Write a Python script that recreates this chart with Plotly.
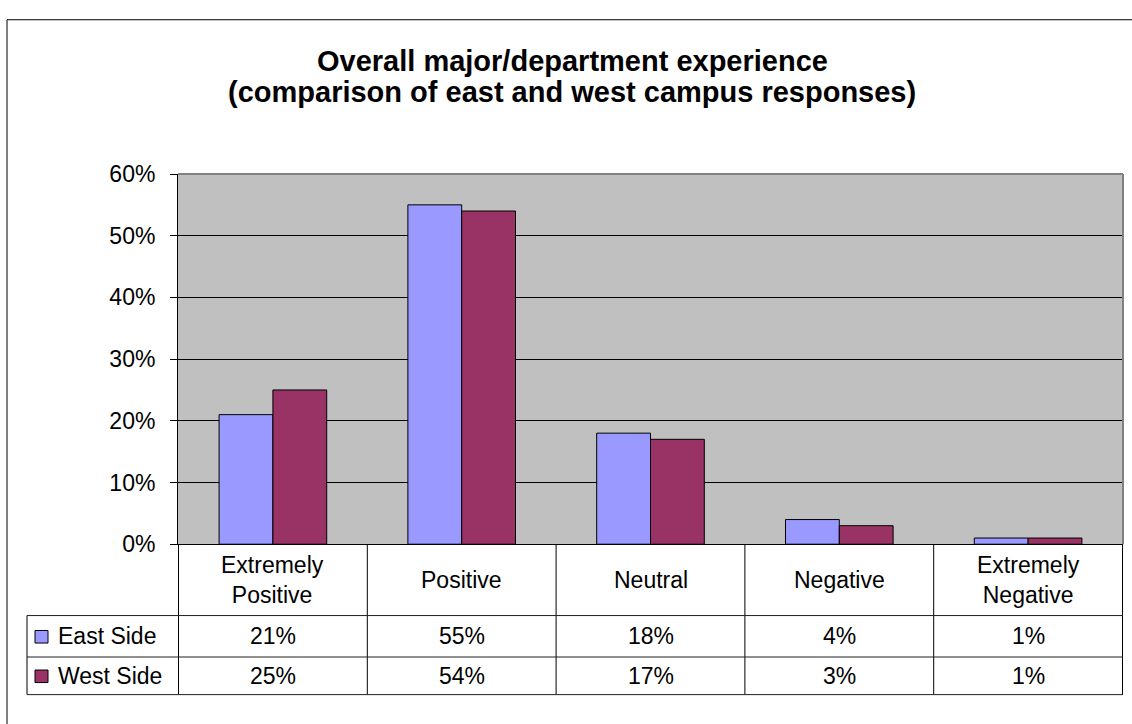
import plotly.graph_objects as go

# data
CATEGORIES = ["Extremely<br>Positive", "Positive", "Neutral", "Negative", "Extremely<br>Negative"]
SERIES = ["East Side", "West Side"]
EAST = [0.21, 0.55, 0.18, 0.04, 0.01]
WEST = [0.25, 0.54, 0.17, 0.03, 0.01]
COLORS = ["#9999FF", "#993366"]
TITLE_LINES = [
    "Overall major/department experience",
    "(comparison of east and west campus responses)",
]
Y_TICKS = [0, 0.1, 0.2, 0.3, 0.4, 0.5, 0.6]

W, H = 1132, 724
FONT = "Liberation Sans, Arial, sans-serif"


def px(x):
    return x / W


def py(y):
    return 1 - y / H


PLOT_L, PLOT_R, PLOT_T, PLOT_B = 178, 1123, 167, 551
ROW_LINES = [625, 668, 707]
TABLE_L = 27

fig = go.Figure()
for name, vals, col in zip(SERIES, [EAST, WEST], COLORS):
    fig.add_trace(
        go.Bar(
            x=CATEGORIES,
            y=vals,
            name=name,
            marker=dict(color=col, line=dict(color="black", width=1)),
            hoverinfo="skip",
        )
    )

shapes = []
line_k = dict(color="black", width=1)
# plot frame top/right in grey
shapes.append(dict(type="line", xref="paper", yref="paper", x0=px(PLOT_L), x1=px(PLOT_R),
                   y0=py(PLOT_T), y1=py(PLOT_T), line=dict(color="#808080", width=2), layer="above"))
shapes.append(dict(type="line", xref="paper", yref="paper", x0=px(PLOT_R), x1=px(PLOT_R),
                   y0=py(PLOT_T), y1=py(PLOT_B), line=dict(color="#808080", width=2), layer="above"))
# outer chart frame
shapes.append(dict(type="rect", xref="paper", yref="paper", x0=px(7), x1=px(1137),
                   y0=py(740), y1=py(7), line=line_k))
# data table: vertical lines at category boundaries
for i in range(len(CATEGORIES) + 1):
    shapes.append(dict(type="line", xref="x", yref="paper", x0=i - 0.5, x1=i - 0.5,
                       y0=py(PLOT_B), y1=py(ROW_LINES[-1]), line=line_k))
shapes.append(dict(type="line", xref="paper", yref="paper", x0=px(TABLE_L), x1=px(TABLE_L),
                   y0=py(ROW_LINES[0]), y1=py(ROW_LINES[-1]), line=line_k))
for yl in ROW_LINES:
    shapes.append(dict(type="line", xref="paper", yref="paper", x0=px(TABLE_L), x1=px(PLOT_R),
                       y0=py(yl), y1=py(yl), line=dict(color="#202020", width=1)))

annotations = []
for i, t in enumerate(TITLE_LINES):
    annotations.append(dict(text="<b>%s</b>" % t, xref="paper", yref="paper",
                            x=px(572), y=py(50 + 32 * i), showarrow=False,
                            xanchor="center", yanchor="middle",
                            font=dict(family=FONT, size=29, color="black")))
for c in CATEGORIES:
    annotations.append(dict(text=c, xref="x", yref="paper", x=c, y=py((PLOT_B + ROW_LINES[0]) / 2),
                            showarrow=False, xanchor="center", yanchor="middle",
                            font=dict(family=FONT, size=23, color="black")))
row_tops = [ROW_LINES[0], ROW_LINES[1]]
row_bots = [ROW_LINES[1], ROW_LINES[2]]
for r, (name, vals, col) in enumerate(zip(SERIES, [EAST, WEST], COLORS)):
    yc = (row_tops[r] + row_bots[r]) / 2
    shapes.append(dict(type="rect", xref="paper", yref="paper", x0=px(35), x1=px(48),
                       y0=py(yc - 6), y1=py(yc + 7), fillcolor=col, line=line_k))
    annotations.append(dict(text=name, xref="paper", yref="paper", x=px(56), y=py(yc),
                            showarrow=False, xanchor="left", yanchor="middle",
                            font=dict(family=FONT, size=23, color="black")))
    for c, v in zip(CATEGORIES, vals):
        annotations.append(dict(text="%d%%" % round(v * 100), xref="x", yref="paper", x=c, y=py(yc),
                                showarrow=False, xanchor="center", yanchor="middle",
                                font=dict(family=FONT, size=23, color="black")))

fig.update_layout(
    width=W,
    height=H,
    margin=dict(l=0, r=0, t=0, b=0),
    paper_bgcolor="white",
    plot_bgcolor="#C0C0C0",
    barmode="group",
    bargap=0.43,
    bargroupgap=0,
    showlegend=False,
    font=dict(family=FONT, size=23, color="black"),
    shapes=shapes,
    annotations=annotations,
)
fig.update_xaxes(
    domain=[px(PLOT_L), px(PLOT_R)],
    showticklabels=False,
    showgrid=False,
    showline=True,
    linecolor="black",
    linewidth=1,
    ticks="",
)
fig.update_yaxes(
    domain=[py(PLOT_B), py(PLOT_T)],
    range=[0, 0.6],
    tickvals=Y_TICKS,
    tickformat=".0%",
    showgrid=True,
    gridcolor="black",
    gridwidth=1,
    zeroline=False,
    showline=True,
    linecolor="black",
    linewidth=1,
    ticks="outside",
    ticklen=7,
    tickcolor="black",
    ticklabelstandoff=10,
    tickfont=dict(family=FONT, size=23, color="black"),
)

# drop the default page margin so the figure sits at the window origin
fig.write_html(
    "out.html",
    config={"displayModeBar": False},
    post_script="document.body.style.margin='0';",
)
